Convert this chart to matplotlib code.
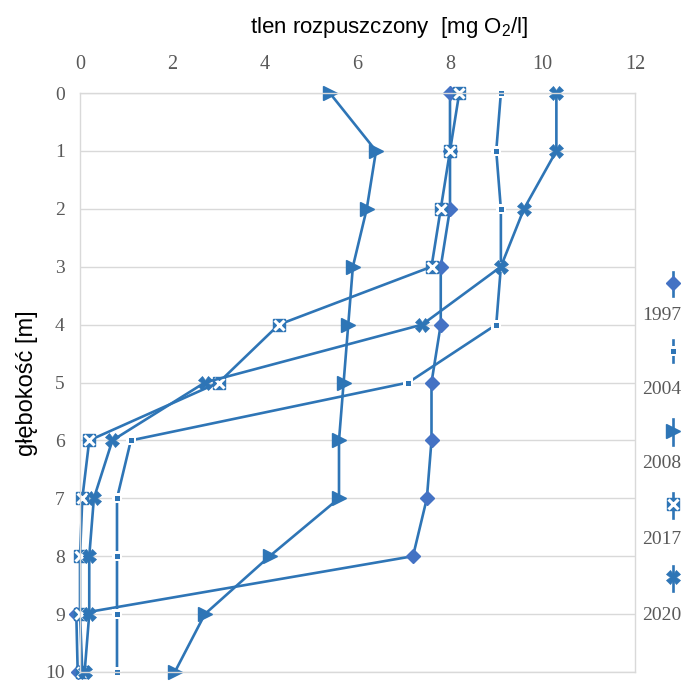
import matplotlib
matplotlib.use("Agg")
import matplotlib.pyplot as plt

plt.rcParams['mathtext.fontset'] = 'custom'
plt.rcParams['mathtext.rm'] = 'Liberation Sans'

depth = [0, 1, 2, 3, 4, 5, 6, 7, 8, 9, 10]
years = ["1997", "2004", "2008", "2017", "2020"]
oxy_1997 = [8.0, 8.0, 8.0, 7.8, 7.8, 7.6, 7.6, 7.5, 7.2, -0.08, -0.05]
oxy_2004 = [9.1, 9.0, 9.1, 9.1, 9.0, 7.1, 1.1, 0.8, 0.8, 0.8, 0.8]
oxy_2008 = [5.4, 6.4, 6.2, 5.9, 5.8, 5.7, 5.6, 5.6, 4.1, 2.7, 2.05]
oxy_2017 = [8.2, 8.0, 7.8, 7.6, 4.3, 3.0, 0.2, 0.05, 0.0, 0.0, 0.05]
oxy_2020 = [10.3, 10.3, 9.6, 9.1, 7.4, 2.7, 0.7, 0.3, 0.2, 0.2, 0.1]
x_ticks = [0, 2, 4, 6, 8, 10, 12]
y_ticks = [0, 1, 2, 3, 4, 5, 6, 7, 8, 9, 10]

LC = '#2E75B6'
DC = '#4472C4'
GRID = '#D9D9D9'
TXT = '#595959'
SERIF = ['Liberation Serif', 'DejaVu Serif']
SANS = ['Liberation Sans Narrow', 'Liberation Sans', 'DejaVu Sans']

W, H = 687, 684
fig = plt.figure(figsize=(W / 100, H / 100), dpi=100)
ax = fig.add_axes([80 / W, 1 - 672 / H, (635 - 80) / W, (672 - 93) / H])

lw = 1.9
styles = {
    "1997": dict(marker='D', ms=7, mfc=DC, mec=DC),
    "2004": dict(marker='s', ms=7.5, mfc='white', mec='white', mew=0),
    "2008": dict(marker='>', ms=10, mfc=LC, mec=LC),
    "2017": dict(marker='s', ms=9, mfc=LC, mec=LC),
    "2020": dict(marker='X', ms=10, mfc=LC, mec=LC, mew=0.5),
}
overlay = {
    "2004": dict(marker='s', ms=3.6, mfc=LC, mec=LC, mew=0),
    "2017": dict(marker='x', ms=7, mec='white', mew=2.2),
}
series = {"1997": oxy_1997, "2004": oxy_2004, "2008": oxy_2008,
          "2017": oxy_2017, "2020": oxy_2020}

for yr in years:
    ax.plot(series[yr], depth, color=LC, lw=lw, clip_on=False, **styles[yr])
    if yr in overlay:
        ax.plot(series[yr], depth, ls='none', clip_on=False, **overlay[yr])

ax.set_xlim(0, 12)
ax.set_ylim(10, 0)
ax.set_xticks(x_ticks)
ax.set_yticks(y_ticks)
ax.xaxis.tick_top()
ax.tick_params(axis='x', length=0, pad=14, labelsize=14.5, labelcolor=TXT)
ax.tick_params(axis='y', length=0, pad=11, labelsize=14, labelcolor=TXT)
for lab in ax.get_xticklabels() + ax.get_yticklabels():
    lab.set_fontfamily(SERIF)
ax.yaxis.grid(True, color=GRID, lw=1)
ax.set_axisbelow(True)
for side in ['left', 'right', 'top', 'bottom']:
    ax.spines[side].set_color(GRID)
    ax.spines[side].set_linewidth(1)

fig.text(389 / W, 1 - 28 / H, r'tlen rozpuszczony  [mg O$_\mathrm{2}$/l]',
         ha='center', va='center', fontsize=16, family=SANS, color='black')
fig.text(27 / W, 1 - 383 / H, 'głębokość [m]', rotation=90, ha='center',
         va='center', fontsize=17, family=SANS, color='black')

# legend drawn in pixel coordinates
lax = fig.add_axes([0, 0, 1, 1])
lax.set_xlim(0, W)
lax.set_ylim(H, 0)
lax.axis('off')
lax.patch.set_alpha(0)
leg_pos = {"1997": (272, 296, 283, 316), "2004": (340, 362, 351, 389),
           "2008": (419, 445, 431, 464), "2017": (493, 518, 504, 540),
           "2020": (566, 591, 577, 616)}
lx = 673
for yr in years:
    y0, y1, ym, yl = leg_pos[yr]
    lax.plot([lx, lx], [y0, y1], color=LC, lw=lw)
    lax.plot([lx], [ym], color=LC, ls='none', **styles[yr])
    if yr in overlay:
        lax.plot([lx], [ym], ls='none', **overlay[yr])
    lax.text(662, yl, yr, ha='center', va='center', fontsize=14,
             family=SERIF, color=TXT)

fig.savefig('out.png', dpi=100)
